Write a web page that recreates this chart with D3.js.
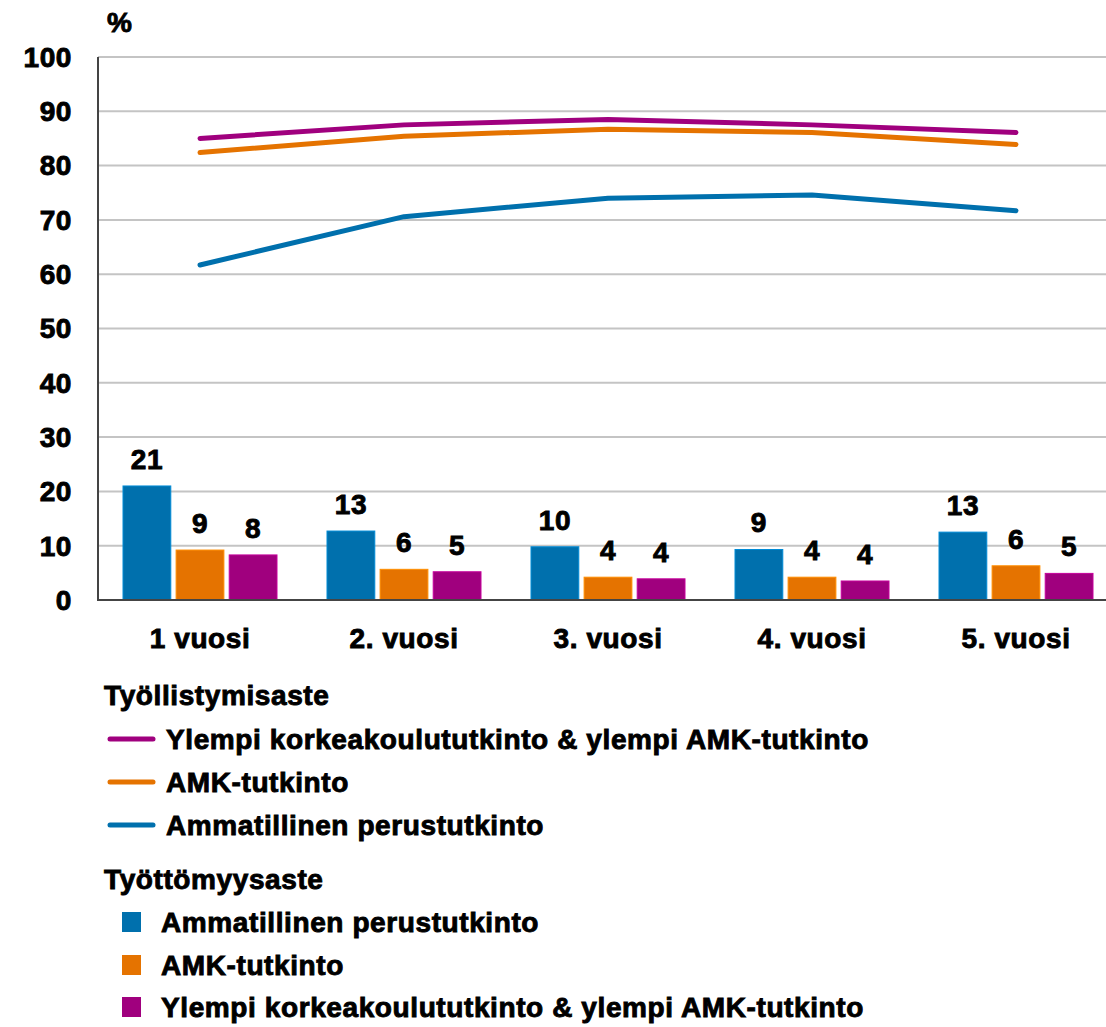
<!DOCTYPE html>
<html><head><meta charset="utf-8">
<script src="https://cdn.jsdelivr.net/npm/d3@7"></script>
<style>
html,body{margin:0;padding:0;background:#fff;overflow:hidden}
text{font-family:"Liberation Sans",Arial,sans-serif;font-weight:bold;fill:#000;stroke:#000;stroke-width:0.9px;letter-spacing:0.6px}
</style></head><body>
<svg id="c" width="1106" height="1027"></svg>
<script>
const categories = ["1 vuosi","2. vuosi","3. vuosi","4. vuosi","5. vuosi"];
const yTicks = [0,10,20,30,40,50,60,70,80,90,100];
const seriesNames = ["Ammatillinen perustutkinto","AMK-tutkinto","Ylempi korkeakoulututkinto & ylempi AMK-tutkinto"];
const colors = ["#0070ad","#e57300","#a0007e"];
// employment rate (lines)
const empAmm = [61.7,70.6,74.0,74.6,71.7];
const empAmk = [82.4,85.4,86.7,86.1,83.9];
const empYlempi = [85.0,87.5,88.5,87.5,86.1];
// unemployment rate (bars)
const unAmm = [21.0,12.7,9.8,9.3,12.5];
const unAmk = [9.2,5.65,4.2,4.2,6.3];
const unYlempi = [8.3,5.2,3.9,3.5,4.9];
const legendTitleLines = "Työllistymisaste";
const legendTitleBars = "Työttömyysaste";
const yUnit = "%";

const svg = d3.select("#c");
const FS = 28;
const x = d3.scaleBand().domain(categories).range([98,1118]).paddingInner(0).paddingOuter(0);
const y = d3.scaleLinear().domain([0,100]).range([600,57]);

// grid
svg.append("g").selectAll("line").data(yTicks.filter(d=>d>0)).join("line")
  .attr("x1",98).attr("x2",1118).attr("y1",d=>y(d)).attr("y2",d=>y(d))
  .attr("stroke","#c4c4c4").attr("stroke-width",2);

// y tick labels
svg.append("g").selectAll("text").data(yTicks).join("text")
  .attr("x",72).attr("y",d=>y(d)).attr("dy","0.35em").attr("text-anchor","end")
  .attr("font-size",FS).text(d=>d);
svg.append("text").attr("x",107).attr("y",22).attr("dy","0.35em").attr("font-size",FS).text(yUnit);

// bars
const barSeries = [unAmm,unAmk,unYlempi];
const xs = d3.scaleBand().domain([0,1,2]).range([25,x.bandwidth()-25]).paddingInner(0.1);
barSeries.forEach((vals,si)=>{
  const g = svg.append("g");
  g.selectAll("rect").data(vals).join("rect")
    .attr("x",(d,i)=>x(categories[i])+xs(si)).attr("width",xs.bandwidth())
    .attr("y",d=>y(d)).attr("height",d=>y(0)-y(d))
    .attr("fill",colors[si]).attr("stroke",d3.color(colors[si]).brighter(0.6)).attr("stroke-width",1);
  g.selectAll("text").data(vals).join("text")
    .attr("x",(d,i)=>x(categories[i])+xs(si)+xs.bandwidth()/2)
    .attr("y",d=>y(d)-27).attr("dy","0.35em").attr("text-anchor","middle")
    .attr("font-size",FS).text(d=>Math.round(d));
});

// axes lines
svg.append("line").attr("x1",98).attr("x2",98).attr("y1",57).attr("y2",600).attr("stroke","#444").attr("stroke-width",2);
svg.append("line").attr("x1",97).attr("x2",1118).attr("y1",600).attr("y2",600).attr("stroke","#444").attr("stroke-width",2);

// x labels
svg.append("g").selectAll("text").data(categories).join("text")
  .attr("x",d=>x(d)+x.bandwidth()/2).attr("y",638).attr("dy","0.35em").attr("text-anchor","middle")
  .attr("font-size",FS).text(d=>d);

// lines
const lineSeries = [empAmm,empAmk,empYlempi];
const line = d3.line().x((d,i)=>x(categories[i])+x.bandwidth()/2).y(d=>y(d));
lineSeries.forEach((vals,si)=>{
  svg.append("path").datum(vals).attr("d",line).attr("fill","none")
    .attr("stroke",colors[si]).attr("stroke-width",5).attr("stroke-linecap","round").attr("stroke-linejoin","round");
});

// legend
const lg = svg.append("g");
lg.append("text").attr("x",104).attr("y",695).attr("dy","0.35em").attr("font-size",FS).text(legendTitleLines);
const lineOrder = [2,1,0];
const lineYs = [739,782,825];
lineOrder.forEach((si,k)=>{
  lg.append("line").attr("x1",110).attr("x2",153).attr("y1",lineYs[k]).attr("y2",lineYs[k])
    .attr("stroke",colors[si]).attr("stroke-width",5).attr("stroke-linecap","round");
  lg.append("text").attr("x",166).attr("y",lineYs[k]).attr("dy","0.35em").attr("font-size",FS).text(seriesNames[si]);
});
lg.append("text").attr("x",104).attr("y",879).attr("dy","0.35em").attr("font-size",FS).text(legendTitleBars);
const barYs = [922,965,1007];
[0,1,2].forEach((si,k)=>{
  lg.append("rect").attr("x",122).attr("y",barYs[k]-10).attr("width",19).attr("height",20).attr("fill",colors[si]);
  lg.append("text").attr("x",161).attr("y",barYs[k]).attr("dy","0.35em").attr("font-size",FS).text(seriesNames[si]);
});
</script>
</body></html>
